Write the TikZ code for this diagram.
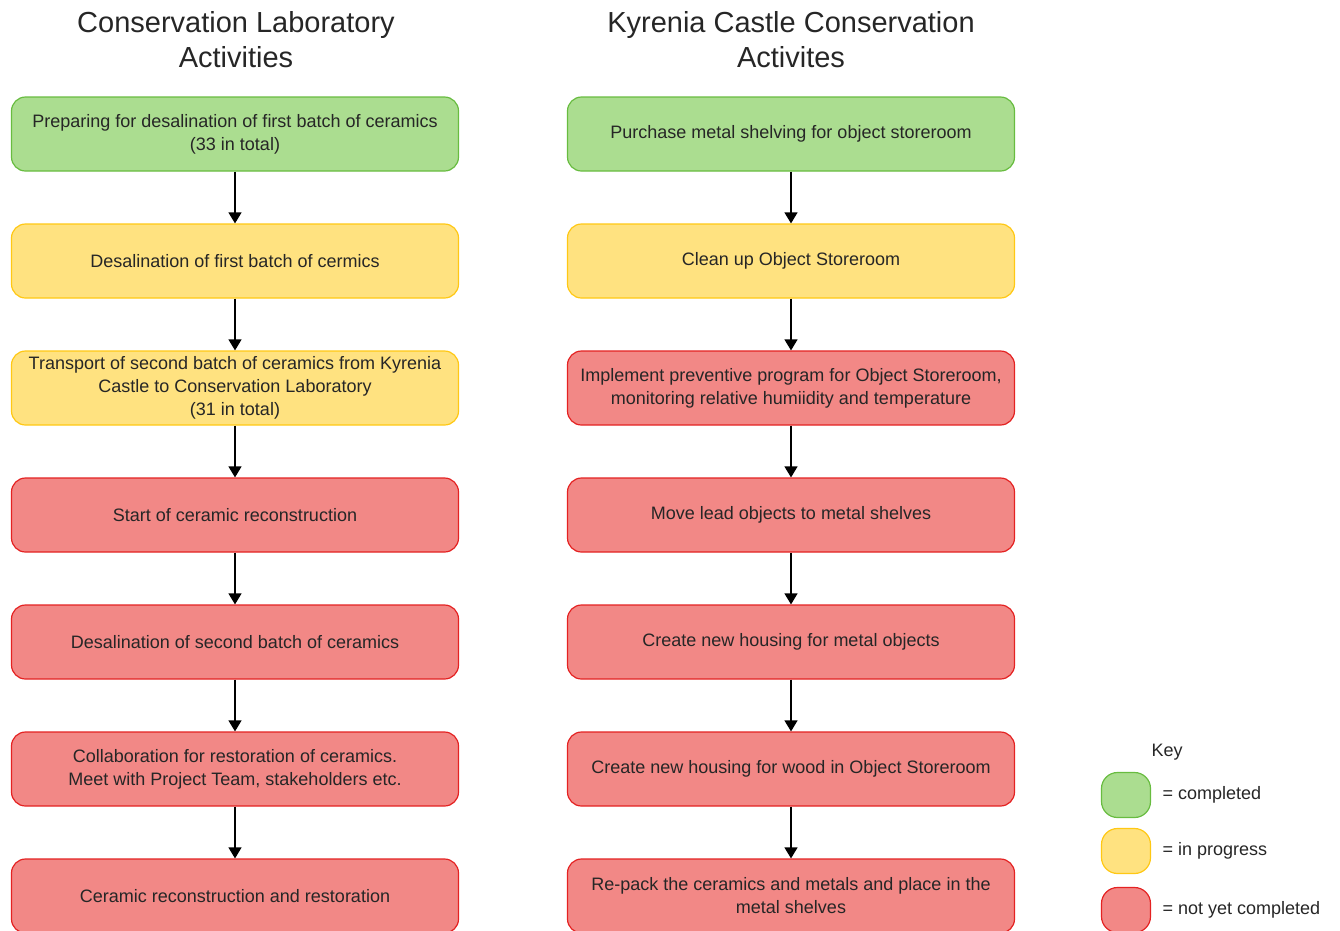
\documentclass[tikz,border=0pt]{standalone}
\usepackage{fontspec}
\setmainfont{Liberation Sans}
\usetikzlibrary{positioning, arrows.meta}

\definecolor{donefill}{RGB}{171,221,144}
\definecolor{donedraw}{RGB}{104,188,64}
\definecolor{busyfill}{RGB}{255,226,128}
\definecolor{busydraw}{RGB}{255,200,20}
\definecolor{todofill}{RGB}{242,136,134}
\definecolor{tododraw}{RGB}{228,34,34}

\begin{document}
\begin{tikzpicture}[x=1pt, y=-1pt, node distance=51.8pt,
    every node/.style={font=\fontsize{18}{23}\selectfont, text=black!85},
    >={Triangle[width=13pt,length=11pt]},
    box/.style={rectangle, rounded corners=14pt, align=center, line width=1.2pt, inner sep=2pt, minimum width=447pt, minimum height=74pt},
    done/.style={box, fill=donefill, draw=donedraw},
    busy/.style={box, fill=busyfill, draw=busydraw},
    todo/.style={box, fill=todofill, draw=tododraw},
    keybox/.style={rectangle, rounded corners=16pt, line width=1.2pt, minimum width=49pt, minimum height=45pt},
    title/.style={align=center, font=\fontsize{29}{35}\selectfont},
    line/.style={draw, ->, line width=1.2pt}]

\useasboundingbox (0,0) rectangle (1340,930);

% Titles
\node[title] (labtitle) at (236,40) {Conservation Laboratory\\Activities};
\node[title] (castletitle) at (791,40) {Kyrenia Castle Conservation\\Activites};

% Conservation Laboratory
\node[done] (prep) at (235,134) {Preparing for desalination of first batch of ceramics\\(33 in total)};
\node[busy, below=of prep] (desalfirst) {Desalination of first batch of cermics};
\node[busy, below=of desalfirst] (transport) {Transport of second batch of ceramics from Kyrenia\\Castle to Conservation Laboratory\\(31 in total)};
\node[todo, below=of transport] (startrecon) {Start of ceramic reconstruction};
\node[todo, below=of startrecon] (desalsecond) {Desalination of second batch of ceramics};
\node[todo, below=of desalsecond] (collab) {Collaboration for restoration of ceramics.\\Meet with Project Team, stakeholders etc.};
\node[todo, below=of collab] (restore) {Ceramic reconstruction and restoration};

% Kyrenia Castle
\node[done] (shelving) at (791,134) {Purchase metal shelving for object storeroom};
\node[busy, below=of shelving] (cleanup) {Clean up Object Storeroom};
\node[todo, below=of cleanup] (preventive) {Implement preventive program for Object Storeroom,\\monitoring relative humiidity and temperature};
\node[todo, below=of preventive] (lead) {Move lead objects to metal shelves};
\node[todo, below=of lead] (metalhousing) {Create new housing for metal objects};
\node[todo, below=of metalhousing] (woodhousing) {Create new housing for wood in Object Storeroom};
\node[todo, below=of woodhousing] (repack) {Re-pack the ceramics and metals and place in the\\metal shelves};

% Key
\node (keytitle) at (1167,752) {Key};
\node[keybox, fill=donefill, draw=donedraw] (keydone) at (1126,795) {};
\node[keybox, fill=busyfill, draw=busydraw] (keybusy) at (1126,851) {};
\node[keybox, fill=todofill, draw=tododraw] (keytodo) at (1126,910) {};
\node[right=8pt of keydone] (keydonetext) {= completed};
\node[right=8pt of keybusy] (keybusytext) {= in progress};
\node[right=8pt of keytodo] (keytodotext) {= not yet completed};

% Paths
\draw [line] (prep) -- (desalfirst);
\draw [line] (desalfirst) -- (transport);
\draw [line] (transport) -- (startrecon);
\draw [line] (startrecon) -- (desalsecond);
\draw [line] (desalsecond) -- (collab);
\draw [line] (collab) -- (restore);
\draw [line] (shelving) -- (cleanup);
\draw [line] (cleanup) -- (preventive);
\draw [line] (preventive) -- (lead);
\draw [line] (lead) -- (metalhousing);
\draw [line] (metalhousing) -- (woodhousing);
\draw [line] (woodhousing) -- (repack);

\end{tikzpicture}
\end{document}
